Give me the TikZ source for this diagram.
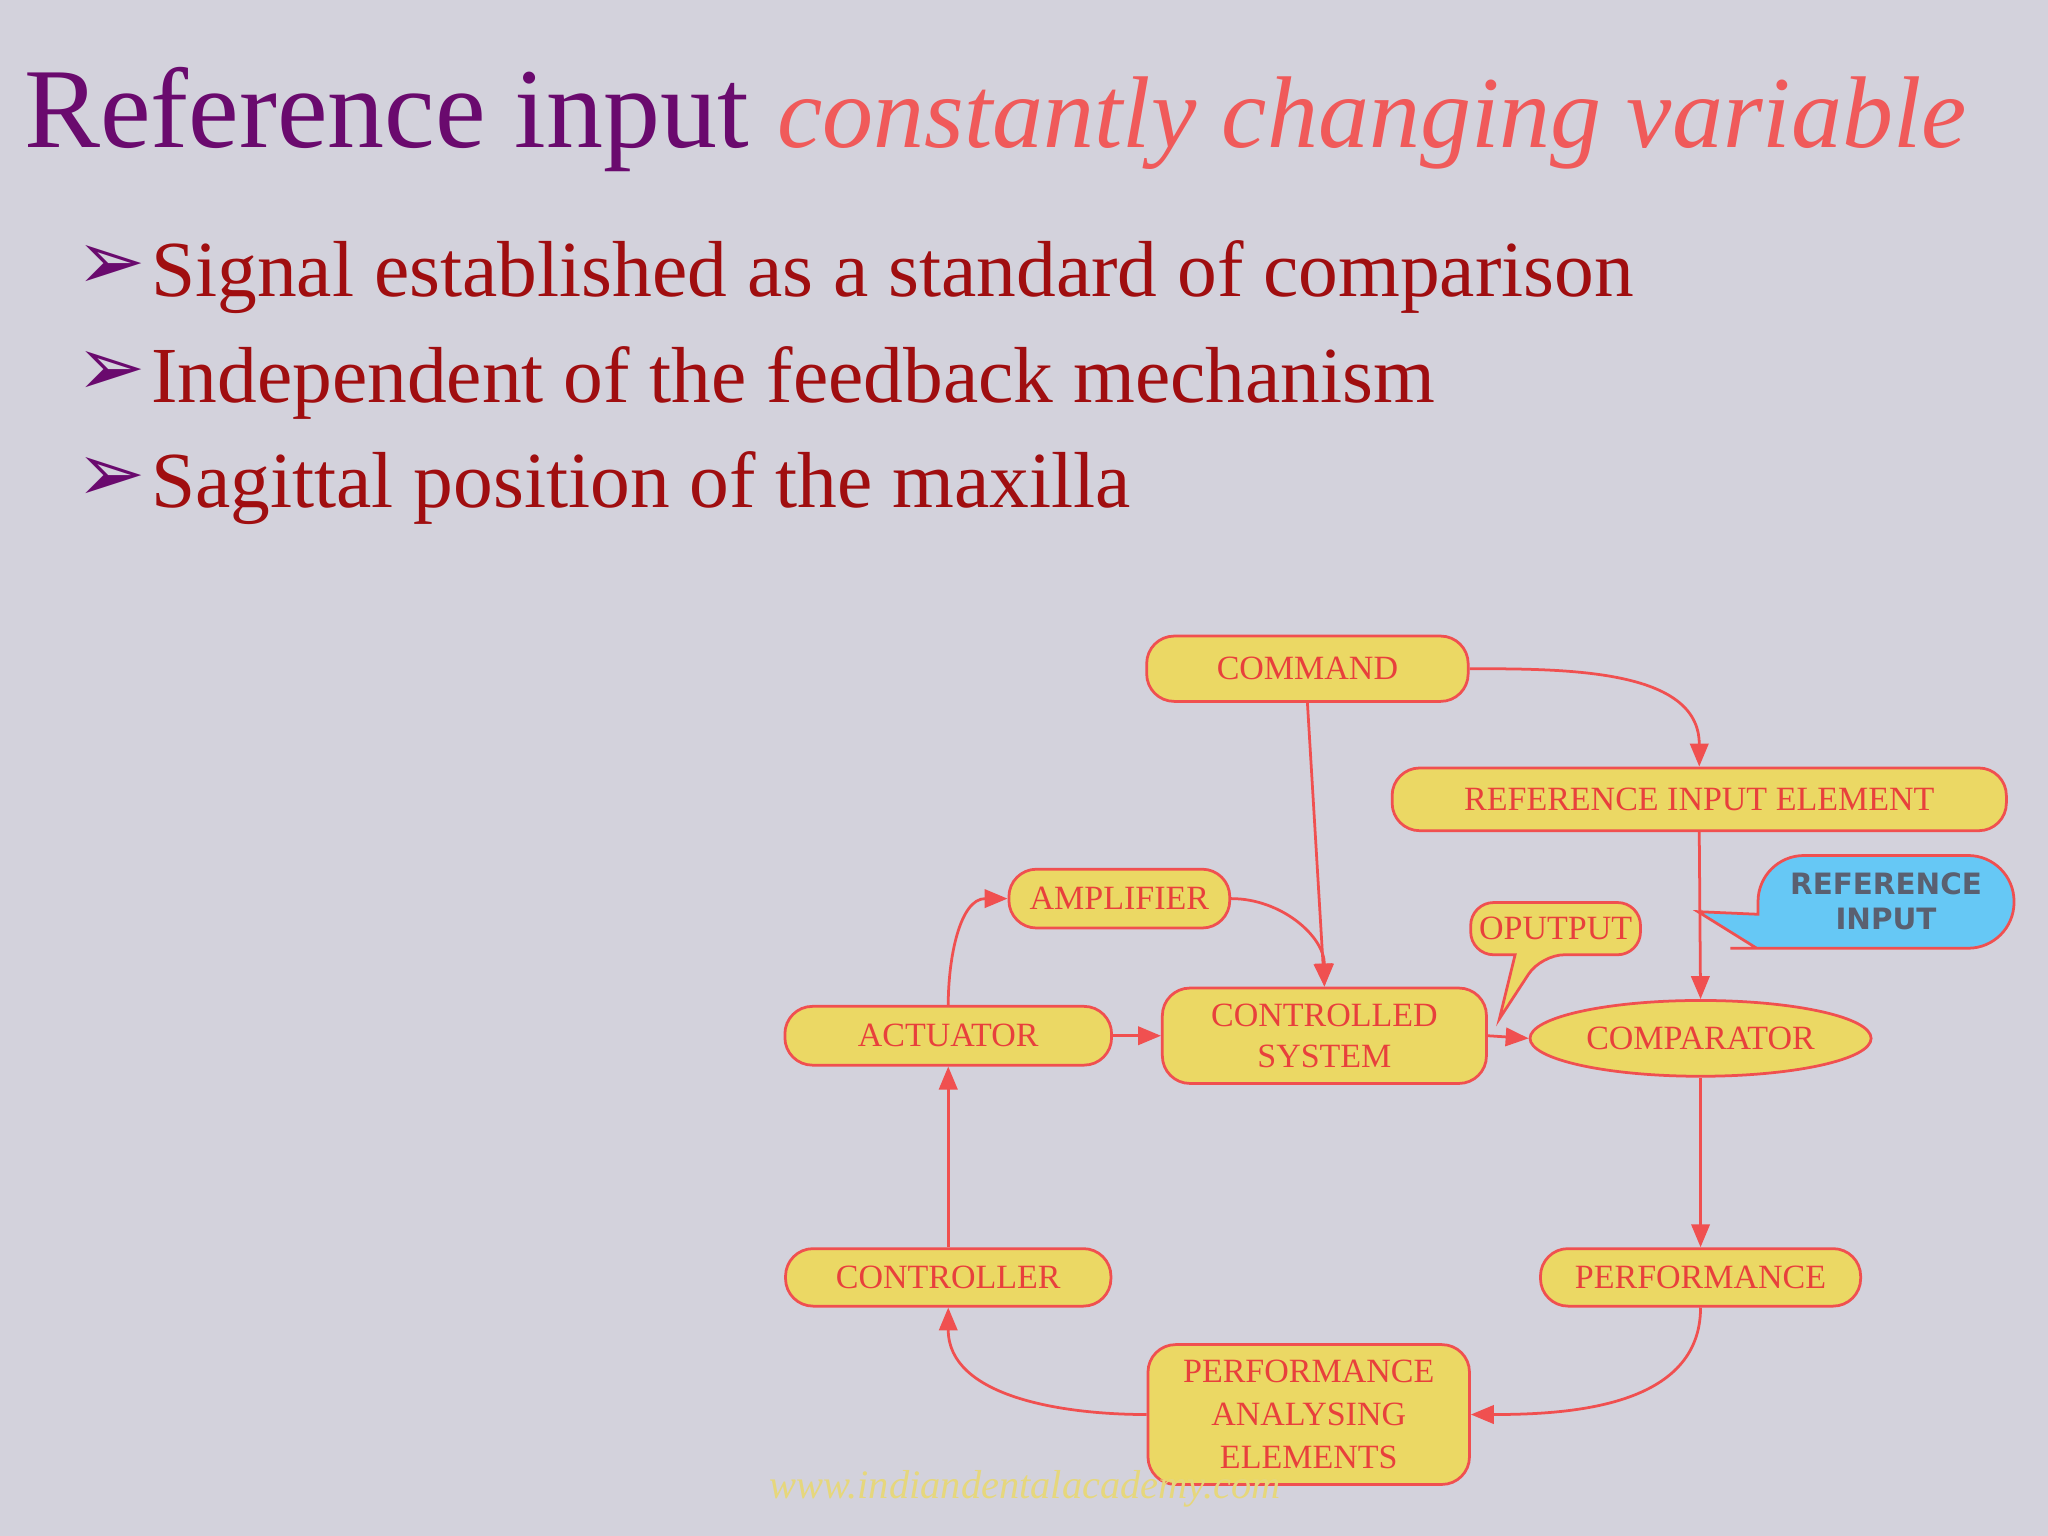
\documentclass[tikz,border=0pt]{standalone}
\usepackage{fontspec}
\setmainfont{Liberation Serif}
\newfontfamily\djv{DejaVu Sans}
\usetikzlibrary{shapes.geometric,arrows.meta}
\definecolor{bg}{HTML}{D3D2DC}
\definecolor{boxfill}{HTML}{EBD864}
\definecolor{boxline}{HTML}{F05050}
\definecolor{boxtext}{HTML}{E8403C}
\definecolor{ttlpurple}{HTML}{6A0A6E}
\definecolor{ttlred}{HTML}{F05A5A}
\definecolor{bultext}{HTML}{A00E10}
\definecolor{calblue}{HTML}{66C8F5}
\definecolor{caltext}{HTML}{5A6070}
\tikzset{
  bx/.style={draw=boxline,fill=boxfill,rounded corners=6pt,text=boxtext,font=\fontsize{7.4}{9}\selectfont,align=center,inner sep=0pt,line width=0.6pt},
  el/.style={ellipse,draw=boxline,fill=boxfill,text=boxtext,font=\fontsize{7.4}{9}\selectfont,inner sep=0pt,line width=0.6pt},
  ar/.style={draw=boxline,line width=0.6pt,-{Triangle[length=5pt,width=4pt]}},
  bul/.style={anchor=west,text=bultext,font=\fontsize{17.3}{20}\selectfont},
  bmark/.style={anchor=west,text=ttlpurple,font=\djv\fontsize{18}{22}\selectfont,inner sep=0pt},
}
\begin{document}
\begin{tikzpicture}[x=0.01cm,y=-0.01cm]
\fill[bg] (0,0) rectangle (1568,1176);
\useasboundingbox (0,0) rectangle (1568,1176);
\node[anchor=base west,inner sep=0pt] (title) at (18,113) {\fontsize{24.8}{28}\selectfont\textcolor{ttlpurple}{Reference input} \textcolor{ttlred}{\fontsize{22.2}{28}\selectfont\itshape constantly changing variable}};
\node[bmark] (b1) at (58,205) {➢};
\node[bmark] (b2) at (58,286) {➢};
\node[bmark] (b3) at (58,367) {➢};
\node[bul,inner sep=0pt] (t1) at (115,212) {Signal established as a standard of comparison};
\node[bul,inner sep=0pt] (t2) at (115,293) {Independent of the feedback mechanism};
\node[bul,inner sep=0pt] (t3) at (115,374) {Sagittal position of the maxilla};

\node[bx,minimum width=2.46cm,minimum height=0.5cm] (cmd) at (1001,512) {COMMAND};
\node[bx,minimum width=4.7cm,minimum height=0.48cm] (rie) at (1301,612) {REFERENCE INPUT ELEMENT};
\node[bx,minimum width=1.69cm,minimum height=0.45cm] (amp) at (857,688) {AMPLIFIER};
\node[bx,minimum width=2.5cm,minimum height=0.45cm] (act) at (726,793) {ACTUATOR};
\node[bx,minimum width=2.48cm,minimum height=0.73cm] (cs) at (1014,793) {CONTROLLED\\SYSTEM};
\node[el,minimum width=2.61cm,minimum height=0.58cm] (cmp) at (1302,795) {COMPARATOR};
\node[bx,minimum width=2.49cm,minimum height=0.44cm] (ctl) at (726,978) {CONTROLLER};
\node[bx,minimum width=2.45cm,minimum height=0.44cm] (perf) at (1302,978) {PERFORMANCE};
\node[bx,minimum width=2.46cm,minimum height=1.07cm,font=\fontsize{7.4}{9.4}\selectfont] (pae) at (1002,1083) {PERFORMANCE\\ANALYSING\\ELEMENTS};

% callouts
\draw[draw=boxline,fill=boxfill,line width=0.6pt,rounded corners=5pt] (1126,691) -- (1256,691) -- (1256,731) -- (1180,731) [sharp corners]-- (1148,780) -- (1160,731) [rounded corners=5pt]-- (1126,731) -- cycle;
\node[text=boxtext,font=\fontsize{7.4}{9}\selectfont] (opt) at (1191,711) {OPUTPUT};
\draw[draw=boxline,fill=calblue,line width=0.6pt,rounded corners=10pt] (1346,655) -- (1542,655) -- (1542,726) -- (1360,726) [sharp corners]-- (1345,726) -- (1300,698) -- (1346,700) [rounded corners=10pt]-- cycle;
\node[text=caltext,font=\djv\bfseries\fontsize{6.4}{7.8}\selectfont,align=center] (rin) at (1444,690) {REFERENCE\\INPUT};

\draw[ar] (cmd.east) to[out=0,in=90] (rie.north);
\draw[ar] (cmd.south) -- (cs.north);
\draw[ar] (amp.east) to[out=0,in=90] (cs.north);
\draw[ar] (act.north) to[out=90,in=180] (amp.west);
\draw[ar] (act.east) -- (cs.west);
\draw[ar] (cs.east) -- (cmp.west);
\draw[ar] (rie.south) -- (cmp.north);
\draw[ar] (cmp.south) -- (perf.north);
\draw[ar] (perf.south) to[out=-90,in=0] (pae.east);
\draw[ar] (pae.west) to[out=180,in=-90] (ctl.south);
\draw[ar] (ctl.north) -- (act.south);

\node[text=boxfill!80!bg,font=\itshape\fontsize{8.8}{10}\selectfont] (wm) at (785,1140) {www.indiandentalacademy.com};
\end{tikzpicture}
\end{document}
